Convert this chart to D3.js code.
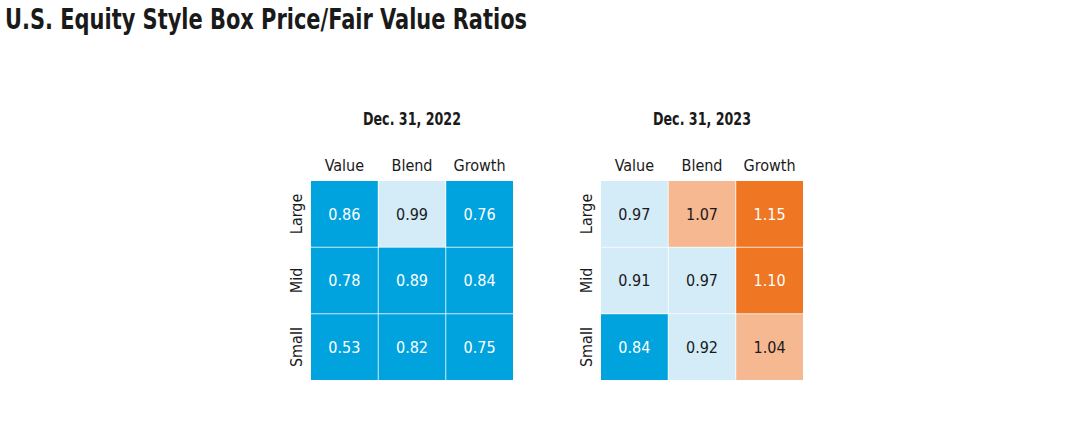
<!DOCTYPE html>
<html>
<head>
<meta charset="utf-8">
<script src="https://cdn.jsdelivr.net/npm/d3@7"></script>
<style>
  body { margin: 0; background: #fff; }
  text { font-family: "Liberation Sans Narrow", "DejaVu Sans Condensed", "Roboto Condensed", sans-serif; }
</style>
</head>
<body>
<div id="chart"></div>
<script>
let width = 1083
let height = 445

const styles = ["Value", "Blend", "Growth"]
const sizes = ["Large", "Mid", "Small"]
const periods = ["Dec. 31, 2022", "Dec. 31, 2023"]
// rows = sizes, cols = styles
const ratios2022 = [[0.86, 0.99, 0.76], [0.78, 0.89, 0.84], [0.53, 0.82, 0.75]]
const ratios2023 = [[0.97, 1.07, 1.15], [0.91, 0.97, 1.10], [0.84, 0.92, 1.04]]
const panels = [ratios2022, ratios2023]

const fill = d3.scaleThreshold()
  .domain([0.9, 1.0, 1.1])
  .range(["#00a3de", "#d3ecf8", "#f6b891", "#ef7622"])
const ink = d => (d < 0.9 || d >= 1.1) ? "#ffffff" : "#1a1a1a"

const svg = d3.select("#chart")
  .append("svg")
  .attr("width", width)
  .attr("height", height)

svg.append("text")
  .attr("x", 5)
  .attr("y", 29)
  .attr("font-size", 29)
  .attr("font-weight", "bold")
  .attr("fill", "#1a1a1a")
  .attr("textLength", 522)
  .attr("lengthAdjust", "spacingAndGlyphs")
  .text("U.S. Equity Style Box Price/Fair Value Ratios")

const gridW = 202, gridH = 199
const lefts = [311, 601]

panels.forEach((data, p) => {
  const g = svg.append("g").attr("transform", `translate(${lefts[p]},181)`)
  const x = d3.scaleBand().domain(styles).range([0, gridW]).paddingInner(0.012)
  const y = d3.scaleBand().domain(sizes).range([0, gridH]).paddingInner(0.012)

  g.append("text")
    .attr("x", gridW / 2 - 49)
    .attr("y", -56)
    .attr("font-size", 17)
    .attr("font-weight", "bold")
    .attr("fill", "#1a1a1a")
    .attr("textLength", 98)
    .attr("lengthAdjust", "spacingAndGlyphs")
    .text(periods[p])

  g.selectAll(".colLabel")
    .data(styles)
    .enter()
    .append("text")
    .attr("x", d => x(d) + x.bandwidth() / 2)
    .attr("y", -10)
    .attr("text-anchor", "middle")
    .attr("font-size", 16)
    .attr("fill", "#1a1a1a")
    .text(d => d)

  g.selectAll(".rowLabel")
    .data(sizes)
    .enter()
    .append("text")
    .attr("transform", d => `translate(-9,${y(d) + y.bandwidth() / 2}) rotate(-90)`)
    .attr("text-anchor", "middle")
    .attr("font-size", 16)
    .attr("fill", "#1a1a1a")
    .text(d => d)

  const cells = []
  data.forEach((row, i) => row.forEach((v, j) => cells.push({size: sizes[i], style: styles[j], v})))

  g.selectAll("rect")
    .data(cells)
    .enter()
    .append("rect")
    .attr("x", d => x(d.style))
    .attr("y", d => y(d.size))
    .attr("width", x.bandwidth())
    .attr("height", y.bandwidth())
    .attr("fill", d => fill(d.v))

  g.selectAll(".val")
    .data(cells)
    .enter()
    .append("text")
    .attr("x", d => x(d.style) + x.bandwidth() / 2)
    .attr("y", d => y(d.size) + y.bandwidth() / 2)
    .attr("dy", "0.36em")
    .attr("text-anchor", "middle")
    .attr("font-size", 16)
    .attr("fill", d => ink(d.v))
    .text(d => d.v.toFixed(2))
})
</script>
</body>
</html>
